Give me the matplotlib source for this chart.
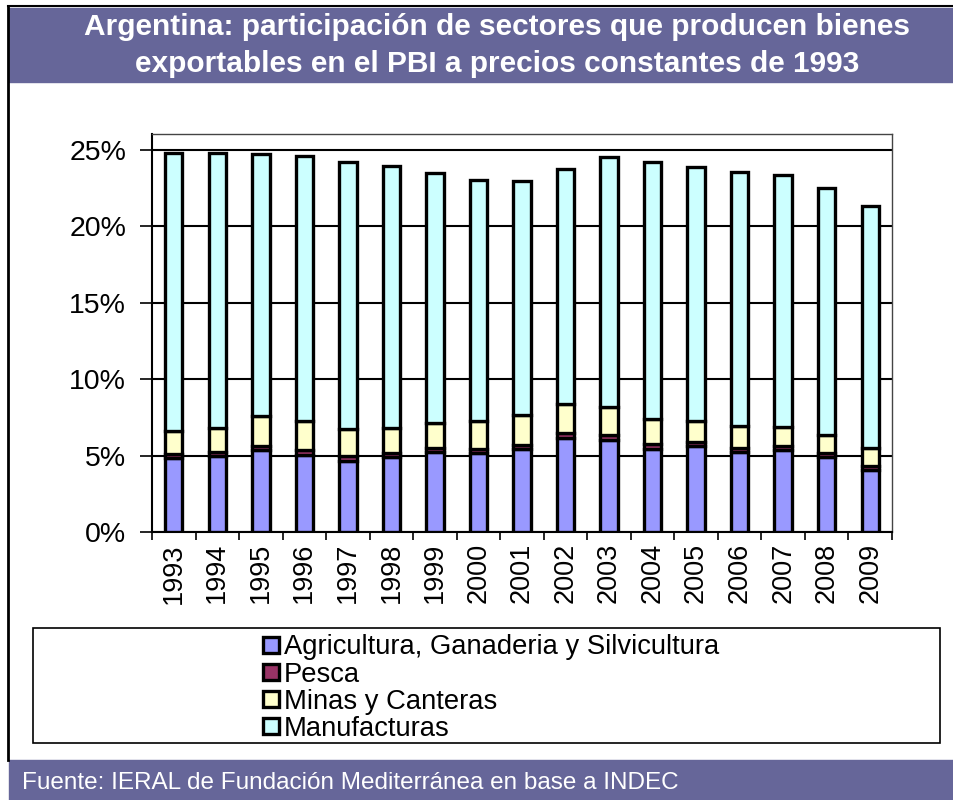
import matplotlib.pyplot as plt
import matplotlib.patches as mpatches
import numpy as np

plt.rcParams['font.family'] = ['Liberation Sans', 'DejaVu Sans']

years = ['1993', '1994', '1995', '1996', '1997', '1998', '1999', '2000', '2001',
         '2002', '2003', '2004', '2005', '2006', '2007', '2008', '2009']
# shares of GDP (%)
agricultura = [4.85, 4.98, 5.38, 5.05, 4.65, 4.91, 5.24, 5.18, 5.42,
               6.15, 6.04, 5.46, 5.62, 5.24, 5.38, 4.91, 4.08]
pesca = [0.28, 0.27, 0.28, 0.30, 0.30, 0.27, 0.28, 0.28, 0.28,
         0.30, 0.30, 0.28, 0.26, 0.26, 0.26, 0.25, 0.24]
minas = [1.45, 1.55, 1.96, 1.89, 1.79, 1.62, 1.61, 1.78, 1.98,
         1.96, 1.83, 1.66, 1.41, 1.41, 1.21, 1.20, 1.16]
manufacturas = [18.24, 18.02, 17.13, 17.34, 17.46, 17.18, 16.35, 15.82, 15.31,
                15.35, 16.39, 16.83, 16.63, 16.63, 16.49, 16.15, 15.88]

series = [('Agricultura, Ganaderia y Silvicultura', agricultura, '#9999FF'),
          ('Pesca', pesca, '#993366'),
          ('Minas y Canteras', minas, '#FFFFCC'),
          ('Manufacturas', manufacturas, '#CCFFFF')]

W, H = 954, 800
fig = plt.figure(figsize=(W / 100, H / 100), dpi=100)

# frame and bands
band = '#666699'
fig.patches.append(mpatches.Rectangle((9 / W, 1 - 82 / H), 1 - 9 / W, 74 / H,
                                      transform=fig.transFigure, color=band, zorder=0))
fig.patches.append(mpatches.Rectangle((9 / W, 0), 1 - 9 / W, 40 / H,
                                      transform=fig.transFigure, color=band, zorder=0))
fig.add_artist(plt.Line2D([8 / W, 8 / W], [40 / H, 1 - 6 / H], color='black', lw=2,
                          transform=fig.transFigure))
fig.add_artist(plt.Line2D([8 / W, 1], [1 - 6 / H, 1 - 6 / H], color='black', lw=1.5,
                          transform=fig.transFigure))

fig.text(497 / W, 1 - 27 / H, 'Argentina: participación de sectores que producen bienes',
         color='white', fontsize=21.5, fontweight='bold', ha='center', va='center')
fig.text(497 / W, 1 - 64 / H, 'exportables en el PBI a precios constantes de 1993',
         color='white', fontsize=21.5, fontweight='bold', ha='center', va='center')
fig.text(22 / W, 17 / H, 'Fuente: IERAL de Fundación Mediterránea en base a INDEC',
         color='white', fontsize=17.5, ha='left', va='center')

ax = fig.add_axes([152 / W, 1 - 532 / H, (892 - 152) / W, (532 - 134) / H])
x = np.arange(len(years))
bottom = np.zeros(len(years))
handles = []
for name, vals, col in series:
    v = np.array(vals) / 100
    b = ax.bar(x, v, 0.4, bottom=bottom, color=col, edgecolor='black', linewidth=2.4,
               label=name, zorder=3)
    handles.append(b)
    bottom += v

ax.set_xlim(-0.5, len(years) - 0.5)
ax.set_ylim(0, 0.2605)
ax.set_yticks(np.arange(0, 0.26, 0.05))
ax.set_yticklabels(['%d%%' % t for t in range(0, 26, 5)], fontsize=20.5)
ax.yaxis.grid(True, color='black', lw=1.5, zorder=1)
ax.set_xticks(x)
ax.set_xticklabels(years, rotation=90, fontsize=19.5)
ax.tick_params(axis='x', length=0, pad=8)
ax.set_xticks(np.arange(-0.5, len(years)), minor=True)
ax.tick_params(axis='x', which='minor', length=6, width=1.2, direction='out')
ax.tick_params(axis='y', length=8.6, width=1.2, direction='out', pad=10)
for s in ['top', 'right']:
    ax.spines[s].set_color('#444444')
    ax.spines[s].set_linewidth(1)
ax.spines['left'].set_linewidth(1.5)
ax.spines['bottom'].set_linewidth(1.5)

# legend box
fig.patches.append(mpatches.Rectangle((33 / W, 1 - 743 / H), (940 - 33) / W, (743 - 628) / H,
                                      transform=fig.transFigure, facecolor='white',
                                      edgecolor='black', lw=1.2, zorder=1))
fig.legend(handles=handles, loc='upper left', bbox_to_anchor=(258 / W, 1 - 629 / H),
           frameon=False, fontsize=19.7, handlelength=0.55, handleheight=0.55,
           handletextpad=0.2, labelspacing=0.04, borderaxespad=0, borderpad=0.2)

fig.savefig('out.png', dpi=100)
